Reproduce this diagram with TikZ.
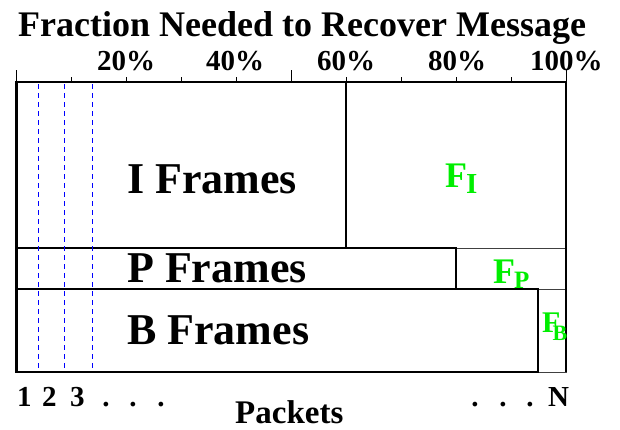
\documentclass[tikz,border=0pt]{standalone}
\usepackage{fontspec}
\setmainfont{Liberation Serif}
\usepackage{tikz}
\usetikzlibrary{positioning,calc}
\usepackage{xcolor}
\definecolor{fgreen}{RGB}{0,238,0}
\definecolor{dashblue}{RGB}{0,0,255}

\begin{document}
\begin{tikzpicture}[x=1pt, y=-1pt]

\tikzstyle{frame} = [rectangle, draw, line width=2.4pt, inner sep=0pt, outer sep=0pt, anchor=north west];
\tikzstyle{cell} = [rectangle, draw=black!75, line width=0.8pt, inner sep=0pt, outer sep=0pt, anchor=north west];
\tikzstyle{packet} = [draw=dashblue, dash pattern=on 5pt off 4pt, line width=1.1pt];
\tikzstyle{big} = [inner sep=0pt, anchor=base west, font=\fontsize{44}{44}\bfseries\selectfont];
\tikzstyle{pct} = [inner sep=0pt, anchor=base west, font=\fontsize{29}{29}\bfseries\selectfont];
\tikzstyle{num} = [inner sep=0pt, anchor=base west, font=\fontsize{29}{29}\bfseries\selectfont];
\tikzstyle{flbl} = [inner sep=0pt, anchor=base west, text=fgreen, font=\bfseries];

\useasboundingbox (0,0) rectangle (620,429);

% Titel und Prozent-Achse
\node (title) [inner sep=0pt, anchor=base west, font=\fontsize{36}{36}\bfseries\selectfont] at (18,36) {Fraction Needed to Recover Message};
\node (p20) [pct] at (97,70) {20\%};
\node (p40) [pct] at (206,70) {40\%};
\node (p60) [pct] at (317,70) {60\%};
\node (p80) [pct] at (428,70) {80\%};
\node (p100) [pct] at (530,70) {100\%};
\foreach \i in {0,...,10} {
  \pgfmathsetmacro{\tx}{16.5+55*\i}
  \ifnum\i=0 \draw[line width=0.8pt] (\tx,82) -- (\tx,70);
  \else\ifnum\i=5 \draw[line width=0.8pt] (\tx,82) -- (\tx,70);
  \else\ifnum\i=10 \draw[line width=0.8pt] (\tx,82) -- (\tx,70);
  \else \draw[line width=0.8pt] (\tx,82) -- (\tx,77);
  \fi\fi\fi
}

% Restanteile F
\node (fi) [cell, minimum width=220pt, minimum height=166pt] at (346,82) {};
\node (fp) [cell, minimum width=110pt, minimum height=41pt] at (456,248) {};
\node (fb) [cell, minimum width=28pt, minimum height=83pt] at (538,289) {};

% Frames
\node (iframe) [frame, minimum width=329.5pt, minimum height=166pt] at (16.5,82) {};
\node (pframe) [frame, minimum width=439.5pt, minimum height=41pt] at (16.5,248) {};
\node (bframe) [frame, minimum width=521.5pt, minimum height=83pt] at (16.5,289) {};
\draw[line width=2.4pt] (iframe.north west) -- (fi.north east) -- (fb.south east);

% Pakete
\foreach \x in {38.5,64.5,92.5}
  \draw[packet] (\x,84) -- (\x,370);

\node (ilbl) [big] at (127,193) {I Frames};
\node (plbl) [big] at (127,282) {P Frames};
\node (blbl) [big] at (127,344) {B Frames};

\node (filbl) [flbl] at (445,187) {\fontsize{36}{36}\selectfont F\kern-1pt\raisebox{-6pt}{\fontsize{29}{29}\selectfont I}};
\node (fplbl) [flbl] at (493,283) {\fontsize{36}{36}\selectfont F\kern-1pt\raisebox{-5pt}{\fontsize{25}{25}\selectfont P}};
\node (fblbl) [flbl] at (542,332) {\fontsize{30}{30}\selectfont F\kern-8pt\raisebox{-8pt}{\fontsize{22}{22}\selectfont B}};

% Paketnummern
\node (n1) [num] at (17,406) {1};
\node (n2) [num] at (42,406) {2};
\node (n3) [num] at (70,406) {3};
\foreach \d/\x in {d1/106,d2/133,d3/161,d4/475,d5/503,d6/530}
  \node (\d) [num, anchor=base] at (\x,406) {.};
\node (nN) [num] at (548,406) {N};
\node (packets) [inner sep=0pt, anchor=base west, font=\fontsize{33}{33}\bfseries\selectfont] at (235,423) {Packets};

\end{tikzpicture}
\end{document}
